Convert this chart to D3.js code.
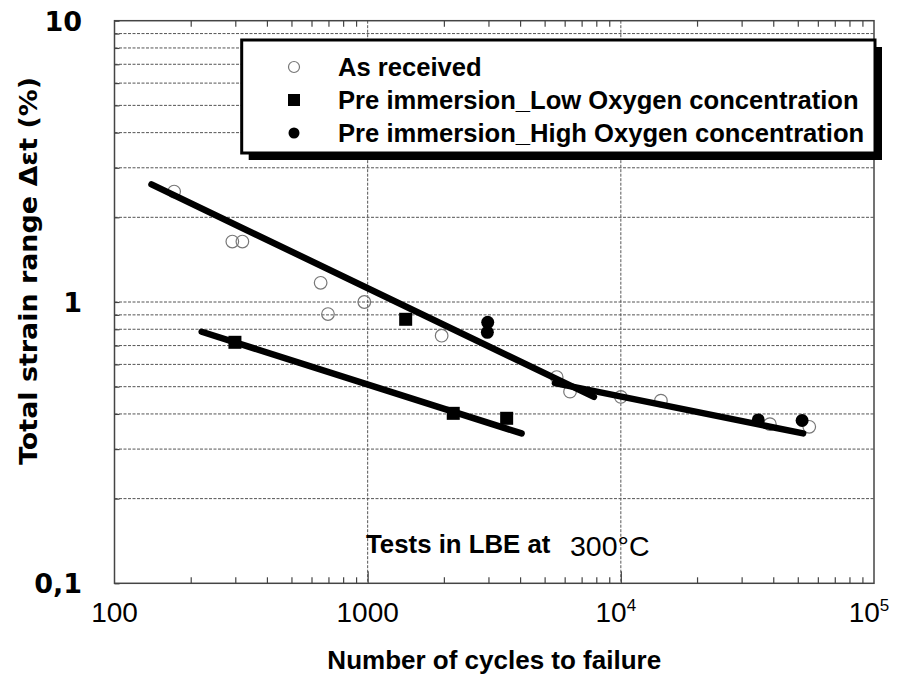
<!DOCTYPE html>
<html>
<head>
<meta charset="utf-8">
<script src="https://cdn.jsdelivr.net/npm/d3@7"></script>
<style>
  body { margin: 0; background: #fff; }
  text { font-family: "Liberation Sans", Arial, sans-serif; fill: #000; }
</style>
</head>
<body>
<svg id="chart" width="899" height="677"></svg>
<script>
// Fatigue tests: cycles to failure vs total strain range
const asReceivedCycles = [172, 292, 320, 652, 697, 970, 1960, 5580, 6300, 10000, 14400, 38800, 55500];
const asReceivedStrain = [2.47, 1.64, 1.64, 1.17, 0.906, 1.0, 0.759, 0.541, 0.48, 0.46, 0.446, 0.368, 0.36];

const lowOxygenCycles = [299, 1413, 2178, 3540];
const lowOxygenStrain = [0.719, 0.868, 0.402, 0.386];

const highOxygenCycles = [2980, 2970, 34900, 52000];
const highOxygenStrain = [0.847, 0.78, 0.381, 0.379];

// Trend lines as [cycles, strain] end points
const trendSteep = [[140, 2.62], [7830, 0.46]];
const trendFlat = [[5490, 0.515], [52500, 0.341]];
const trendLow = [[221, 0.784], [4055, 0.341]];

const xDomain = [100, 1e5];
const yDomain = [0.1, 10];
const xMajorTicks = [100, 1000, 1e4, 1e5];
const xTickLabels = [["100", ""], ["1000", ""], ["10", "4"], ["10", "5"]];
const yMajorTicks = [10, 1, 0.1];
const yTickLabels = ["10", "1", "0,1"];
const legendLabels = ["As received", "Pre immersion_Low Oxygen concentration", "Pre immersion_High Oxygen concentration"];

const svg = d3.select("#chart");
const plotL = 114.5, plotR = 874, plotT = 20.7, plotB = 583.3;

const x = d3.scaleLog().domain(xDomain).range([plotL, plotR]);
const y = d3.scaleLog().domain(yDomain).range([plotB, plotT]);

const xMinor = x.ticks().filter(v => xMajorTicks.indexOf(v) < 0);
const yAll = y.ticks();

// Grid: dashed horizontal lines at every sub-decade value, verticals at inner decades
const grid = svg.append("g");
grid.selectAll("line.h").data(yAll.filter(v => v > 0.1 && v < 10)).join("line")
  .attr("class", "h")
  .attr("x1", plotL).attr("x2", plotR)
  .attr("y1", d => y(d)).attr("y2", d => y(d))
  .attr("stroke", "#555").attr("stroke-width", 1).attr("stroke-dasharray", "3,1.5");
grid.selectAll("line.v").data([1000, 1e4]).join("line")
  .attr("class", "v")
  .attr("x1", d => x(d)).attr("x2", d => x(d))
  .attr("y1", plotT).attr("y2", plotB)
  .attr("stroke", "#555").attr("stroke-width", 1).attr("stroke-dasharray", "3,1.5");

// Axes with inward ticks
const tickStyle = g => {
  g.select(".domain").remove();
  g.selectAll(".tick line").attr("stroke", "#444").attr("stroke-width", 1.2);
  g.selectAll(".tick text").remove();
};
svg.append("g").attr("transform", `translate(0,${plotB})`)
  .call(d3.axisBottom(x).tickValues(xMinor).tickSize(-6)).call(tickStyle);
svg.append("g").attr("transform", `translate(0,${plotB})`)
  .call(d3.axisBottom(x).tickValues([1000, 1e4]).tickSize(-12)).call(tickStyle);
svg.append("g").attr("transform", `translate(0,${plotT})`)
  .call(d3.axisTop(x).tickValues(xMinor).tickSize(-6)).call(tickStyle);
svg.append("g").attr("transform", `translate(${plotL},0)`)
  .call(d3.axisLeft(y).tickValues(yAll).tickSize(-5)).call(tickStyle);

// Frame
svg.append("rect").attr("x", plotL).attr("y", plotT)
  .attr("width", plotR - plotL).attr("height", plotB - plotT)
  .attr("fill", "none").attr("stroke", "#444").attr("stroke-width", 1.5);

// Open circles (as received)
const asReceived = asReceivedCycles.map((c, i) => [c, asReceivedStrain[i]]);
svg.append("g").selectAll("circle").data(asReceived).join("circle")
  .attr("cx", d => x(d[0])).attr("cy", d => y(d[1])).attr("r", 6.3)
  .attr("fill", "none").attr("stroke", "#777").attr("stroke-width", 1.2);

// Trend lines
const line = d3.line().x(d => x(d[0])).y(d => y(d[1]));
svg.append("g").selectAll("path").data([trendSteep, trendFlat, trendLow]).join("path")
  .attr("d", line).attr("fill", "none").attr("stroke", "#000")
  .attr("stroke-width", 6.5).attr("stroke-linecap", "round");

// Filled squares (low oxygen)
const lowOx = lowOxygenCycles.map((c, i) => [c, lowOxygenStrain[i]]);
svg.append("g").selectAll("rect").data(lowOx).join("rect")
  .attr("x", d => x(d[0]) - 6.5).attr("y", d => y(d[1]) - 6.5)
  .attr("width", 13).attr("height", 13).attr("fill", "#000");

// Filled circles (high oxygen)
const highOx = highOxygenCycles.map((c, i) => [c, highOxygenStrain[i]]);
svg.append("g").selectAll("circle").data(highOx).join("circle")
  .attr("cx", d => x(d[0])).attr("cy", d => y(d[1])).attr("r", 6.5)
  .attr("fill", "#000");

// X tick labels
const xl = svg.append("g").selectAll("text").data(xMajorTicks).join("text")
  .attr("x", (d, i) => x(d) + (xTickLabels[i][1] ? -5 : 0))
  .attr("y", 622)
  .attr("text-anchor", "middle")
  .style("font-size", "28px");
xl.append("tspan").text((d, i) => xTickLabels[i][0]);
xl.append("tspan").attr("dy", -11).style("font-size", "17px")
  .text((d, i) => xTickLabels[i][1]);

// Y tick labels
svg.append("g").selectAll("text").data(yMajorTicks).join("text")
  .attr("x", 82).attr("y", d => y(d) + 10)
  .attr("text-anchor", "end")
  .style("font-family", "'DejaVu Sans', sans-serif")
  .style("font-weight", "bold").style("font-size", "27px")
  .text((d, i) => yTickLabels[i]);

// Axis titles
svg.append("text").attr("x", (plotL + plotR) / 2).attr("y", 669)
  .attr("text-anchor", "middle")
  .style("font-weight", "bold").style("font-size", "26px")
  .text("Number of cycles to failure");

svg.append("text")
  .attr("transform", "translate(37,271) rotate(-90)")
  .attr("text-anchor", "middle")
  .style("font-family", "'DejaVu Sans', sans-serif")
  .style("font-weight", "bold").style("font-size", "25px")
  .attr("textLength", 388).attr("lengthAdjust", "spacingAndGlyphs")
  .text("Total strain range \u0394\u03b5t  (%)");

// Annotation
svg.append("text").attr("x", 366).attr("y", 553)
  .style("font-weight", "bold").style("font-size", "25.8px")
  .text("Tests in LBE at");
svg.append("text").attr("x", 570).attr("y", 556)
  .style("font-size", "28.5px")
  .text("300\u00b0C");

// Legend with drop shadow
const lg = svg.append("g");
const lx = 241.7, ly = 40, lw = 633.3, lh = 113;
lg.append("rect").attr("x", lx + 7).attr("y", ly + 7).attr("width", lw).attr("height", lh).attr("fill", "#000");
lg.append("rect").attr("x", lx).attr("y", ly).attr("width", lw).attr("height", lh)
  .attr("fill", "#fff").attr("stroke", "#000").attr("stroke-width", 3);

const rowY = [67, 100, 133];
lg.append("circle").attr("cx", 294).attr("cy", rowY[0]).attr("r", 5.5)
  .attr("fill", "none").attr("stroke", "#777").attr("stroke-width", 1.2);
lg.append("rect").attr("x", 288).attr("y", rowY[1] - 6).attr("width", 12).attr("height", 12).attr("fill", "#000");
lg.append("circle").attr("cx", 294).attr("cy", rowY[2]).attr("r", 5.5).attr("fill", "#000");

lg.selectAll("text").data(legendLabels).join("text")
  .attr("x", 338).attr("y", (d, i) => rowY[i] + 9)
  .style("font-weight", "bold").style("font-size", "25.6px")
  .text(d => d);
</script>
</body>
</html>
